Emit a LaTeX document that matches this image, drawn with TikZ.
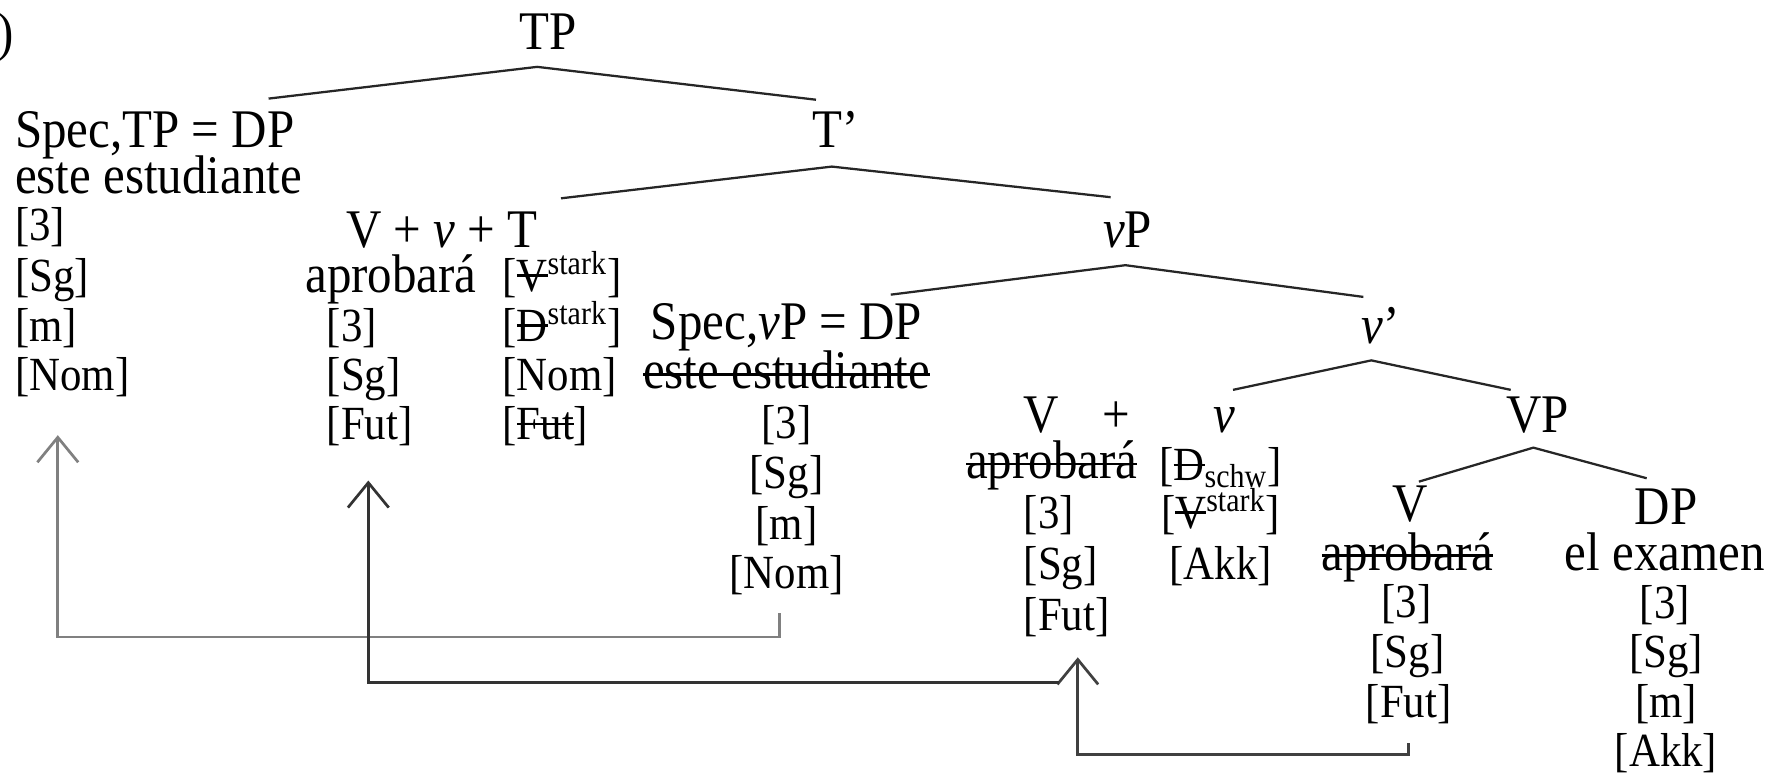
\documentclass[tikz,border=0pt]{standalone}
\usepackage{fontspec}
\setmainfont{Liberation Serif}[FakeStretch=0.9]
\usetikzlibrary{arrows.meta}
\newsavebox{\stkbox}
\newcommand{\stk}[2][0.24em]{\sbox{\stkbox}{#2}\rlap{\rule[#1]{\wd\stkbox}{1.1pt}}\usebox{\stkbox}}
\tikzset{
  lab/.style={font=\fontsize{24}{26}\selectfont, inner sep=0pt},
  wrd/.style={font=\fontsize{24}{26}\selectfont, inner sep=0pt},
  feat/.style={font=\fontsize{21}{22}\selectfont, inner sep=0pt},
  branch/.style={line width=1pt, draw=black!85},
  mv/.style={line width=1.2pt, -{Straight Barb[length=11pt,width=18pt]}},
}
\begin{document}
\begin{tikzpicture}[x=0.5pt,y=-0.5pt]
\useasboundingbox (0,0) rectangle (1568,684);
% number
\node[lab, anchor=base east] (num) at (13,45) {)};
% TP
\node[lab, anchor=base] (TP) at (484,44) {TP};
\node[lab, anchor=base west] (specTP) at (13,130) {Spec,TP = DP};
\node[wrd, anchor=base west] (este1) at (13,171) {este estudiante};
\node[feat, anchor=base west] (l3) at (13,212) {[3]};
\node[feat, anchor=base west] (lSg) at (13,257) {[Sg]};
\node[feat, anchor=base west] (lm) at (13,301) {[m]};
\node[feat, anchor=base west] (lNom) at (13,345) {[Nom]};
% T'
\node[lab, anchor=base] (Tbar) at (737,130) {T'};
\node[lab, anchor=base] (VvT) at (390,218) {V + \textit{v} + T};
\node[wrd, anchor=base west] (apr1) at (269,258) {aprobará};
\node[feat, anchor=base west] (t3) at (288,301) {[3]};
\node[feat, anchor=base west] (tSg) at (288,345) {[Sg]};
\node[feat, anchor=base west] (tFut) at (288,388) {[Fut]};
\node[feat, anchor=base west] (tV) at (443,257) {[\stk[0.3em]{V}\textsuperscript{stark}]};
\node[feat, anchor=base west] (tD) at (443,301) {[\stk[0.3em]{D}\textsuperscript{stark}]};
\node[feat, anchor=base west] (tNom) at (443,345) {[Nom]};
\node[feat, anchor=base west] (tFut2) at (443,388) {[\stk[0.3em]{Fut}]};
% vP
\node[lab, anchor=base] (vP) at (995,218) {\textit{v}P};
\node[lab, anchor=base] (specvP) at (694,300) {Spec,\textit{v}P = DP};
\node[wrd, anchor=base] (este2) at (694,343) {\stk{este estudiante}};
\node[feat, anchor=base] (s3) at (694,387) {[3]};
\node[feat, anchor=base] (sSg) at (694,431) {[Sg]};
\node[feat, anchor=base] (sm) at (694,476) {[m]};
\node[feat, anchor=base] (sNom) at (694,519) {[Nom]};
% v'
\node[lab, anchor=base] (vbar) at (1218,303) {\textit{v}'};
\node[lab, anchor=base] (V1) at (919,382) {V};
\node[lab, anchor=base] (plus) at (985,382) {+};
\node[lab, anchor=base] (v1) at (1080,382) {\textit{v}};
\node[wrd, anchor=base] (apr2) at (928,422) {\stk{aprobará}};
\node[feat, anchor=base west] (w3) at (903,466) {[3]};
\node[feat, anchor=base west] (wSg) at (903,511) {[Sg]};
\node[feat, anchor=base west] (wFut) at (903,556) {[Fut]};
\node[feat, anchor=base] (wD) at (1077,424) {[\stk[0.3em]{D}\textsubscript{schw}]};
\node[feat, anchor=base] (wV) at (1077,466) {[\stk[0.3em]{V}\textsuperscript{stark}]};
\node[feat, anchor=base] (wAkk) at (1077,511) {[Akk]};
% VP
\node[lab, anchor=base] (VP) at (1357,382) {VP};
\node[lab, anchor=base] (V2) at (1244,460) {V};
\node[wrd, anchor=base] (apr3) at (1242,503) {\stk{aprobará}};
\node[feat, anchor=base] (x3) at (1241,545) {[3]};
\node[feat, anchor=base] (xSg) at (1242,589) {[Sg]};
\node[feat, anchor=base] (xFut) at (1243,633) {[Fut]};
\node[lab, anchor=base] (DP) at (1470,463) {DP};
\node[wrd, anchor=base] (ex) at (1469,503) {el examen};
\node[feat, anchor=base] (d3) at (1469,546) {[3]};
\node[feat, anchor=base] (dSg) at (1470,589) {[Sg]};
\node[feat, anchor=base] (dm) at (1470,633) {[m]};
\node[feat, anchor=base] (dAkk) at (1470,676) {[Akk]};
% branch points
\coordinate (TPa) at (474,59);  \coordinate (TPl) at (237,87);  \coordinate (TPr) at (720,88);
\coordinate (Ta) at (734,147);  \coordinate (Tl) at (495,175);  \coordinate (Tr) at (980,174);
\coordinate (vPa) at (993,234); \coordinate (vPl) at (786,260); \coordinate (vPr) at (1203,262);
\coordinate (vba) at (1210,318); \coordinate (vbl) at (1088,344); \coordinate (vbr) at (1333,344);
\coordinate (VPa) at (1353,395); \coordinate (VPl) at (1252,425); \coordinate (VPr) at (1453,422);
\draw[branch] (TPl) -- (TPa) -- (TPr);
\draw[branch] (Tl) -- (Ta) -- (Tr);
\draw[branch] (vPl) -- (vPa) -- (vPr);
\draw[branch] (vbl) -- (vba) -- (vbr);
\draw[branch] (VPl) -- (VPa) -- (VPr);
% movement arrows
\coordinate (a1s) at (688,541); \coordinate (a1b) at (688,562); \coordinate (a1c) at (51,562); \coordinate (a1t) at (51,384);
\draw[mv, draw=black!50] (a1s) -- (a1b) -- (a1c) -- (a1t);
\coordinate (a3s) at (1243,656); \coordinate (a3b) at (1243,666); \coordinate (a3c) at (951,666); \coordinate (a3t) at (951,580);
\draw[mv, draw=black!75] (a3s) -- (a3b) -- (a3c) -- (a3t);
\coordinate (a2s) at (934,602); \coordinate (a2c) at (325,602); \coordinate (a2t) at (325,424);
\draw[mv, draw=black!80] (a2s) -- (a2c) -- (a2t);
\end{tikzpicture}
\end{document}
